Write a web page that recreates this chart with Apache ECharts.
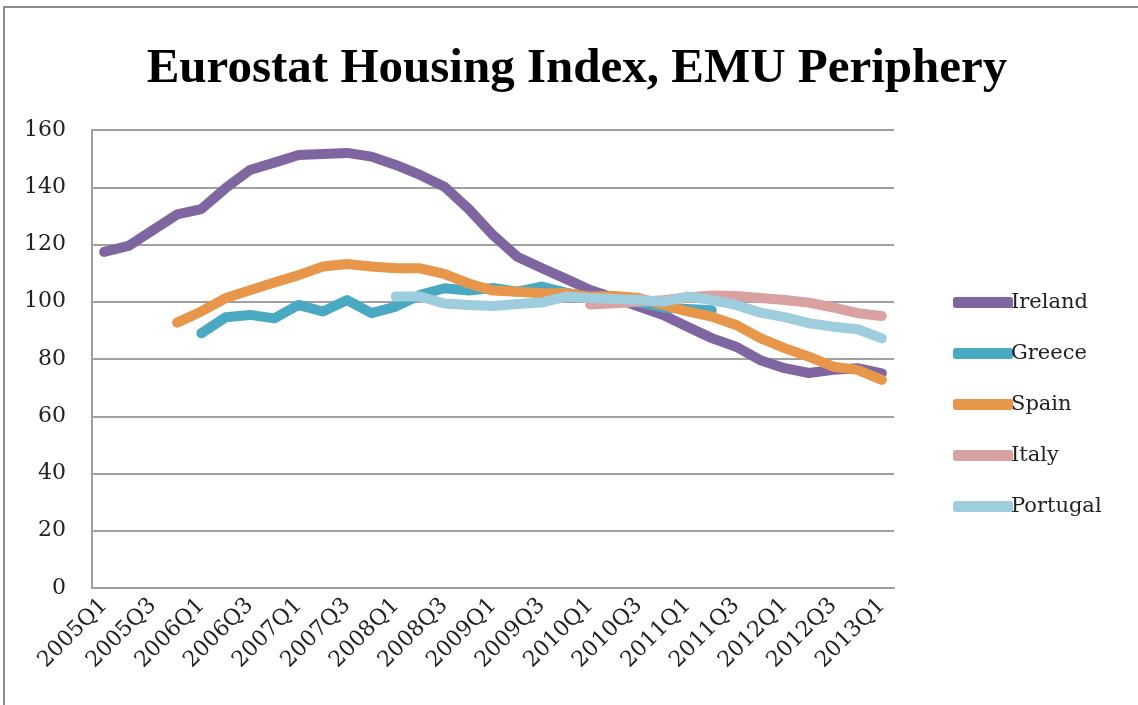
<!DOCTYPE html>
<html>
<head>
<meta charset="utf-8">
<title>Eurostat Housing Index, EMU Periphery</title>
<script src="https://cdn.jsdelivr.net/npm/echarts@6/dist/echarts.min.js"></script>
<style>
  html, body { margin: 0; padding: 0; background: #fff; }
  #chart { width: 1138px; height: 705px; }
</style>
</head>
<body>
<div id="chart"></div>
<script>
// quarters shown on the x axis
var quarters = [
  "2005Q1", "2005Q2", "2005Q3", "2005Q4",
  "2006Q1", "2006Q2", "2006Q3", "2006Q4",
  "2007Q1", "2007Q2", "2007Q3", "2007Q4",
  "2008Q1", "2008Q2", "2008Q3", "2008Q4",
  "2009Q1", "2009Q2", "2009Q3", "2009Q4",
  "2010Q1", "2010Q2", "2010Q3", "2010Q4",
  "2011Q1", "2011Q2", "2011Q3", "2011Q4",
  "2012Q1", "2012Q2", "2012Q3", "2012Q4",
  "2013Q1"
];

// index values (null = no data)
var ireland = [117.4, 119.5, 125, 130.5, 132.4, 139.7, 146, 148.6, 151.3, 151.6, 152, 150.7,
  147.8, 144.3, 140.2, 132.4, 123.3, 115.7, 111.8, 108, 104.1, 101.3, 98.3, 95.4,
  91.3, 87.3, 84.3, 79.6, 76.8, 75.1, 76.2, 76.8, 75];
var greece = [null, null, null, null, 89, 94.6, 95.4, 94.2, 98.9, 96.6, 100.6, 96,
  98.3, 102.4, 104.7, 103.9, 104.8, 103.5, 105.3, 103.2, 101.5, 100.5, 99.8, 98,
  97.5, 97, null, null, null, null, null, null, null];
var spain = [null, null, null, 92.7, 96.6, 101.3, 104, 106.7, 109.3, 112.3, 113.2, 112.3,
  111.7, 111.7, 109.7, 106.4, 103.9, 103.5, 103, 103, 101.8, 102, 101.3, 98.9,
  96.6, 94.8, 91.9, 87.3, 83.8, 80.8, 77.3, 76.2, 72.7];
var italy = [null, null, null, null, null, null, null, null, null, null, null, null,
  null, null, null, null, null, null, null, null, 99, 99.5, 100, 100.5,
  101.5, 102.2, 102, 101.3, 100.6, 99.7, 98, 96, 95];
var portugal = [null, null, null, null, null, null, null, null, null, null, null, null,
  101.8, 101.8, 99.4, 98.9, 98.5, 99.2, 99.7, 101.8, 101.3, 101, 100.6, 100,
  101.8, 100.6, 98.9, 96.2, 94.6, 92.5, 91.3, 90.4, 87.2];

var seriesNames = ["Ireland", "Greece", "Spain", "Italy", "Portugal"];
var seriesColors = ["#8066a0", "#4aa9c2", "#e8964a", "#d9a19f", "#9ecddd"];
var seriesData = [ireland, greece, spain, italy, portugal];

var serif = "'DejaVu Serif', 'Liberation Serif', serif";

var chart = echarts.init(document.getElementById("chart"));

var option = {
  animation: false,
  backgroundColor: "#fff",
  color: seriesColors,
  title: {
    text: "Eurostat Housing Index, EMU Periphery",
    left: 572,
    textAlign: "center",
    top: 40,
    textStyle: {
      fontFamily: "'Liberation Serif', serif",
      fontWeight: "bold",
      fontSize: 49,
      color: "#000"
    }
  },
  graphic: [
    {
      // outer chart frame
      type: "rect",
      shape: { x: 4, y: 7, width: 1140, height: 710 },
      style: { fill: "none", stroke: "#8c8c8c", lineWidth: 2 },
      silent: true
    }
  ],
  legend: {
    orient: "vertical",
    left: 948,
    top: 287,
    itemWidth: 60,
    itemHeight: 11,
    itemGap: 30,
    icon: "roundRect",
    data: seriesNames,
    textStyle: {
      fontFamily: serif,
      fontSize: 21,
      color: "#222",
      padding: [0, 0, 0, -7]
    }
  },
  grid: {
    left: 92,
    right: 244,
    top: 130,
    bottom: 117
  },
  xAxis: {
    type: "category",
    boundaryGap: true,
    data: quarters,
    axisLine: { show: true, lineStyle: { color: "#a0a0a0", width: 2 } },
    axisTick: { show: false },
    axisLabel: {
      interval: 1,
      rotate: 45,
      margin: 14,
      fontFamily: serif,
      fontSize: 22,
      color: "#222"
    },
    splitLine: { show: false }
  },
  yAxis: {
    type: "value",
    min: 0,
    max: 160,
    interval: 20,
    axisLine: { show: true, lineStyle: { color: "#a0a0a0", width: 2 } },
    axisTick: { show: false },
    axisLabel: {
      margin: 26,
      fontFamily: serif,
      fontSize: 22,
      color: "#222"
    },
    splitLine: { show: true, lineStyle: { color: "#a0a0a0", width: 2 } }
  },
  series: []
};

for (var i = 0; i < seriesNames.length; i++) {
  option.series.push({
    name: seriesNames[i],
    type: "line",
    data: seriesData[i],
    showSymbol: false,
    symbol: "none",
    connectNulls: false,
    lineStyle: {
      width: 10,
      color: seriesColors[i],
      cap: "round",
      join: "round"
    },
    itemStyle: { color: seriesColors[i] }
  });
}

chart.setOption(option);
</script>
</body>
</html>
